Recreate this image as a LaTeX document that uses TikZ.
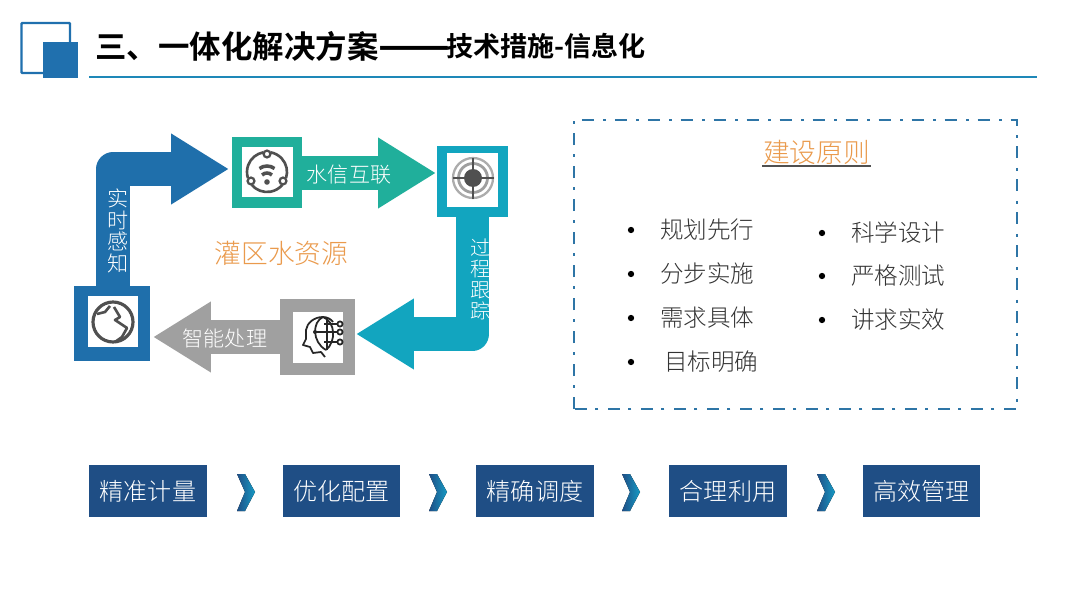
\documentclass[tikz,border=0pt]{standalone}
\usepackage{fontspec}
\setmainfont{Noto Sans CJK SC}[UprightFont={* Light},BoldFont={* Bold}]
\usetikzlibrary{arrows.meta,positioning,calc}
\definecolor{logoblue}{HTML}{2070AE}
\definecolor{ruleblue}{HTML}{1E88B8}
\definecolor{arrowblue}{HTML}{1F6FAB}
\definecolor{arrowteal}{HTML}{20AF9B}
\definecolor{arrowcyan}{HTML}{12A5BF}
\definecolor{arrowgray}{HTML}{A0A0A0}
\definecolor{navybox}{HTML}{1F4E85}
\definecolor{panelblue}{HTML}{2E75A6}
\definecolor{titleorange}{HTML}{EA9A4C}
\definecolor{iconink}{HTML}{505050}

\begin{document}
\begin{tikzpicture}[
    x=0.02cm,y=-0.02cm,
    every node/.style={inner sep=0pt,outer sep=0pt},
    frame/.style={minimum width=1.42cm,minimum height=1.42cm},
    hole/.style={fill=white,minimum width=1.02cm,minimum height=1.02cm},
    flow/.style={line width=19pt,line join=round,-{Triangle[length=33pt,width=38pt]}},
    flowlabel/.style={text=white,font=\fontsize{12}{12.2}\selectfont,align=center},
    item/.style={anchor=west,text=black!80,font=\fontsize{13.4}{14}\selectfont},
    dotmark/.style={circle,fill=black,minimum size=3.6pt},
    measure/.style={fill=navybox,text=white,minimum width=2.36cm,minimum height=1.04cm,font=\fontsize{13.7}{14}\selectfont},
    ink/.style={draw=iconink,line width=1.5pt},
    brainline/.style={draw=black!85,line width=1pt},
  ]
  \useasboundingbox (0,0) rectangle (1080,608);
  \fill[white] (0,0) rectangle (1080,608);

  % logo and heading
  \draw[logoblue,line width=1.4pt,rounded corners=0.5pt] (21.5,23) rectangle (70,73);
  \fill[logoblue] (43,42) rectangle (78,78);
  \node[anchor=west,font=\fontsize{17.9}{18}\bfseries\selectfont] (heading) at (95.5,46) {三、一体化解决方案};
  \node[right=0pt of heading,yshift=-4.5pt,font=\fontsize{24}{25}\bfseries\selectfont] (dashes) {——};
  \node[anchor=west,font=\fontsize{15.4}{16}\bfseries\selectfont] (subheading) at (446,46) {技术措施-信息化};
  \fill[ruleblue] (89,76.5) rectangle (1037,78.5);

  % frames of the four icons
  \node[frame,fill=arrowblue,minimum width=1.52cm,minimum height=1.5cm] (earth) at (112,323.5) {};
  \node[frame,fill=arrowteal] (signal) at (267,172.5) {};
  \node[frame,fill=arrowcyan] (target) at (472.5,181.5) {};
  \node[frame,fill=arrowgray,minimum width=1.5cm,minimum height=1.52cm] (brain) at (317.5,337) {};

  % free ends of the arrows
  \coordinate (earthout) at (113,286);
  \coordinate (signalin) at (229,169);
  \coordinate (targetin) at (436,173);
  \coordinate (brainin) at (356,334);
  \coordinate (grayend) at (153,337);

  % block arrows
  \draw[flow,arrowblue] (earthout) |- (signalin);
  \draw[flow,arrowteal] (signal.east |- targetin) -- (targetin);
  \draw[flow,arrowcyan] (target.south) |- (brainin);
  \draw[flow,arrowgray] (brain.west |- grayend) -- (grayend);

  \node[flowlabel] (sense) at (118,231) {实\\时\\感\\知};
  \node[flowlabel] (link) at (349,175) {水信互联};
  \node[flowlabel,font=\fontsize{11.4}{11.9}\selectfont] (track) at (481,279) {过\\程\\跟\\踪};
  \node[flowlabel] (smart) at (225,338) {智能处理};

  % icon holes
  \node[hole] (earthhole) at (113,321.5) {};
  \node[hole] (signalhole) at (267.5,172) {};
  \node[hole,minimum height=1.08cm] (targethole) at (472.5,180) {};
  \node[hole] (brainhole) at (318,337.5) {};

  % earth
  \draw[ink,line width=1.8pt] (113,322) circle (20);
  \draw[ink] (97,314) -- (105,312) -- (110,306);
  \draw[ink,line join=round] (114,307) -- (120,317) -- (115,320) -- (127,328) -- (122,337) -- (115,342);

  % signal
  \foreach \from/\to in {-100/-198,-220/-320,-342/-440} {
    \draw[ink] (267,172) ++(\from:20) arc (\from:\to:20);
  }
  \foreach \cx/\cy/\cname in {267/154/a,251/181/b,283/181/c} {
    \draw[ink,line width=1.3pt] (\cx,\cy) circle (3.4) coordinate (sat\cname);
  }
  \draw[ink,line width=2pt] (267,178.5) ++(-127:12.5) arc (-127:-53:12.5);
  \draw[ink,line width=2pt] (267,180) ++(-135:7) arc (-135:-45:7);
  \fill[iconink] (267,182) circle (2.8);

  % target
  \coordinate (bull) at (473,178);
  \draw[gray!65,line width=1.3pt] (bull) circle (20);
  \draw[gray!75,line width=1.6pt] (bull) circle (14.5);
  \fill[iconink] (bull) circle (9);
  \draw[iconink,line width=1.2pt] (453,178) -- (494,178) (473,158) -- (473,199);

  % brain
  \draw[brainline,line join=round] (325,357) -- (321,352) -- (313,353) -- (310,347) -- (303,345) -- (306,339) -- (306,330) .. controls (307,323) and (314,317) .. (323,317) .. controls (327,317) and (331,319) .. (333,322);
  \draw[brainline] (323,317) .. controls (312,322) and (312,342) .. (326,350);
  \draw[brainline] (323,317) .. controls (336,322) and (336,342) .. (326,350);
  \draw[brainline] (327,318) -- (327,350);
  \draw[brainline] (315,332) -- (337,332) (324,324) -- (337,324) (324,342) -- (337,342);
  \fill[black!85] (315,332) circle (2);
  \foreach \py in {324,332,342} {
    \draw[brainline,fill=white] (340,\py) circle (2.6);
  }

  % hub label
  \node[text=titleorange,font=\fontsize{15.2}{16}\selectfont] (hub) at (281.5,253) {灌区水资源};

  % principles panel
  \draw[panelblue,line width=1.7pt,dash pattern=on 6.83pt off 5.4pt on 1.7pt off 4.84pt] (574,409) -- (574,120) -- (1017,120) -- (1017,409) -- cycle;
  \node[text=titleorange,font=\fontsize{15.2}{16}\selectfont] (rules) at (816.5,152) {建设原则};
  \draw[iconink,line width=0.7pt] (762,166) -- (871,166);

  \foreach \py/\txt/\cname/\tx in {230/规划先行/a/660, 274/分步实施/b/660, 318/需求具体/c/660, 362/目标明确/d/664} {
    \node[dotmark] (dot\cname) at (631,\py) {};
    \node[item] (left\cname) at (\tx,\py) {\txt};
  }
  \foreach \py/\txt/\cname in {233/科学设计/a, 276/严格测试/b, 320/讲求实效/c} {
    \node[dotmark] (rdot\cname) at (822,\py) {};
    \node[item] (right\cname) at (851,\py) {\txt};
  }

  % measures along the bottom
  \foreach \cx/\txt/\cname in {148/精准计量/a, 341.5/优化配置/b, 535/精确调度/c, 728/合理利用/d, 921.5/高效管理/e} {
    \node[measure] (m\cname) at (\cx,491) {\txt};
  }
  \foreach \cx in {237,429,622,817} {
    \fill[left color=navybox,right color=arrowblue!70!cyan,shift={(\cx,0)}]
      (0,474) -- (8,474) -- (18,492) -- (8,511) -- (0,511) -- (8,492) -- cycle;
  }
\end{tikzpicture}
\end{document}
